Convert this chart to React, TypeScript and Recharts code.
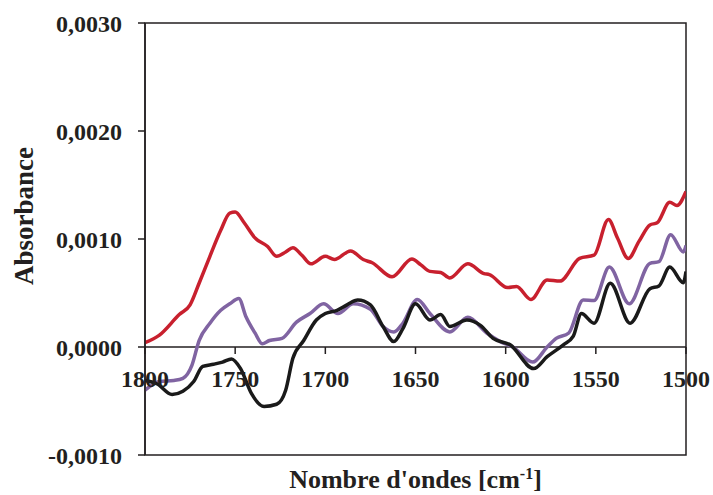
import React from "react";
import { LineChart, Line, XAxis, YAxis, ReferenceLine, ReferenceArea } from "recharts";

const xTicks = [1800, 1750, 1700, 1650, 1600, 1550, 1500];
const yTicks = [-0.001, 0, 0.001, 0.002, 0.003];

const redWave = [1800, 1792, 1781, 1775, 1770, 1764, 1758, 1753, 1750, 1745, 1739, 1732, 1727, 1722, 1718, 1713, 1708, 1700, 1695, 1686, 1679, 1674, 1663, 1652, 1647, 1642, 1636, 1631, 1621, 1612, 1609, 1599, 1594, 1586, 1577, 1570, 1559, 1551, 1543, 1538, 1532, 1526, 1520, 1516, 1509, 1505, 1500];
const redAbs = [0.4, 1.1, 3.0, 3.9, 5.9, 8.4, 10.8, 12.4, 12.5, 11.5, 10.1, 9.3, 8.4, 8.8, 9.2, 8.5, 7.7, 8.4, 8.1, 8.9, 8.1, 7.8, 6.5, 8.15, 7.6, 7.0, 6.9, 6.4, 7.7, 6.8, 6.7, 5.5, 5.6, 4.4, 6.2, 6.1, 8.2, 8.5, 11.8, 10.1, 8.2, 9.8, 11.3, 11.5, 13.4, 13.1, 14.4];

const purpleWave = [1800, 1792, 1784, 1779, 1774, 1770, 1764, 1758, 1753, 1748, 1744, 1739, 1735, 1731, 1724, 1716, 1708.5, 1701, 1693, 1684.5, 1675, 1668, 1662, 1657, 1649, 1642, 1631, 1621, 1610.5, 1603, 1596, 1585, 1577, 1572, 1565, 1557, 1551, 1542.5, 1531.5, 1520, 1515, 1508.5, 1501.5, 1500];
const purpleAbs = [-4.0, -3.2, -3.1, -2.9, -1.7, 0.6, 2.2, 3.4, 4.0, 4.5, 2.8, 1.3, 0.3, 0.6, 0.8, 2.3, 3.1, 4.0, 3.1, 4.0, 3.5, 1.9, 1.4, 2.2, 4.4, 3.1, 1.4, 2.75, 1.3, 0.5, 0.0, -1.4, 0.0, 0.8, 1.3, 4.35, 4.3, 7.4, 4.0, 7.75, 7.9, 10.4, 8.8, 9.4];

const blackWave = [1800, 1793.5, 1785, 1779, 1773, 1768, 1762, 1757, 1752, 1747, 1741, 1734, 1727, 1722, 1718, 1712, 1705, 1700, 1693.5, 1688, 1682, 1675, 1668, 1662, 1657, 1650, 1642, 1636, 1631, 1621.5, 1614, 1607, 1597.5, 1584.5, 1577, 1568, 1562.5, 1558, 1551, 1542, 1531, 1520, 1515, 1509, 1501.5, 1500];
const blackAbs = [-3.1, -3.4, -4.4, -4.1, -3.2, -1.8, -1.6, -1.4, -1.1, -2.0, -4.3, -5.5, -5.3, -4.0, -1.05, 0.6, 2.5, 3.1, 3.4, 3.9, 4.35, 3.9, 1.9, 0.5, 1.7, 4.0, 2.5, 3.0, 1.9, 2.5, 2.0, 0.8, 0.2, -2.0, -0.9, 0.2, 1.0, 3.1, 2.2, 5.9, 2.2, 5.4, 5.65, 7.4, 5.95, 7.0];

const toData = (ws: number[], vs: number[]) => ws.map((w, i) => ({ w, v: vs[i] / 10000 }));
const redData = toData(redWave, redAbs);
const purpleData = toData(purpleWave, purpleAbs);
const blackData = toData(blackWave, blackAbs);

const W = 713;
const H = 495;
const MARGIN = { top: 23, right: 27, bottom: 0, left: 0 };
const Y_AXIS_W = 145;
const X_AXIS_H = 40;
const Y_MIN = -0.001;
const Y_MAX = 0.003;
const FONT = "'Liberation Serif', 'Times New Roman', serif";
const TEXT = "#231f20";
const plotH = H - MARGIN.top - MARGIN.bottom - X_AXIS_H;
const zeroY = MARGIN.top + plotH * (Y_MAX - 0) / (Y_MAX - Y_MIN);

const fmtY = (v: number) => v.toFixed(4).replace(".", ",");

const XTick = (props: any) => {
  const { x, payload } = props;
  return (
    <g>
      <line x1={x} x2={x} y1={zeroY} y2={zeroY + 7} stroke={TEXT} strokeWidth={1.5} />
      <text x={x} y={zeroY + 40} textAnchor="middle" fontFamily={FONT} fontWeight="bold" fontSize={24} fill={TEXT}>
        {payload.value}
      </text>
    </g>
  );
};

const XTitle = (props: any) => {
  const vb = props.viewBox;
  return (
    <text x={vb.x + vb.width / 2} y={vb.y + 33} textAnchor="middle" fontFamily={FONT} fontWeight="bold" fontSize={26} fill={TEXT}>
      Nombre d'ondes [cm<tspan dy={-9} fontSize={16}>-1</tspan><tspan dy={9}>]</tspan>
    </text>
  );
};

const YTitle = () => {
  const cx = 33;
  const cy = 216;
  return (
    <text x={cx} y={cy} transform={`rotate(-90 ${cx} ${cy})`} textAnchor="middle" fontFamily={FONT} fontWeight="bold" fontSize={27} fill={TEXT}>
      Absorbance
    </text>
  );
};

export default function App() {
  return (
    <div style={{ position: "absolute", left: 0, top: 0, width: W, height: H, background: "#fff" }}>
      <LineChart width={W} height={H} margin={MARGIN}>
        <XAxis
          dataKey="w"
          type="number"
          domain={[1500, 1800]}
          reversed
          ticks={xTicks}
          height={X_AXIS_H}
          axisLine={false}
          tickLine={false}
          tick={<XTick />}
          interval={0}
          allowDataOverflow
          label={<XTitle />}
        />
        <YAxis
          type="number"
          domain={[Y_MIN, Y_MAX]}
          ticks={yTicks}
          width={Y_AXIS_W}
          tickFormatter={fmtY}
          axisLine={{ stroke: TEXT, strokeWidth: 1.5 }}
          tickLine={{ stroke: TEXT, strokeWidth: 1.5 }}
          tickSize={7}
          tickMargin={16}
          tick={{ fontFamily: FONT, fontWeight: "bold", fontSize: 24, fill: TEXT }}
          interval={0}
          allowDataOverflow
          label={<YTitle />}
        />
        <ReferenceArea x1={1800} x2={1500} y1={Y_MIN} y2={Y_MAX} fill="none" stroke={TEXT} strokeWidth={1.5} fillOpacity={0} />
        <ReferenceLine y={0} stroke={TEXT} strokeWidth={1.5} />
        <Line data={redData} dataKey="v" type="monotone" stroke="#C8202E" strokeWidth={3.5} strokeLinejoin="round" dot={false} isAnimationActive={false} />
        <Line data={purpleData} dataKey="v" type="monotone" stroke="#8064A2" strokeWidth={3.5} strokeLinejoin="round" dot={false} isAnimationActive={false} />
        <Line data={blackData} dataKey="v" type="monotone" stroke="#1a1a1a" strokeWidth={3.5} strokeLinejoin="round" dot={false} isAnimationActive={false} />
      </LineChart>
    </div>
  );
}
